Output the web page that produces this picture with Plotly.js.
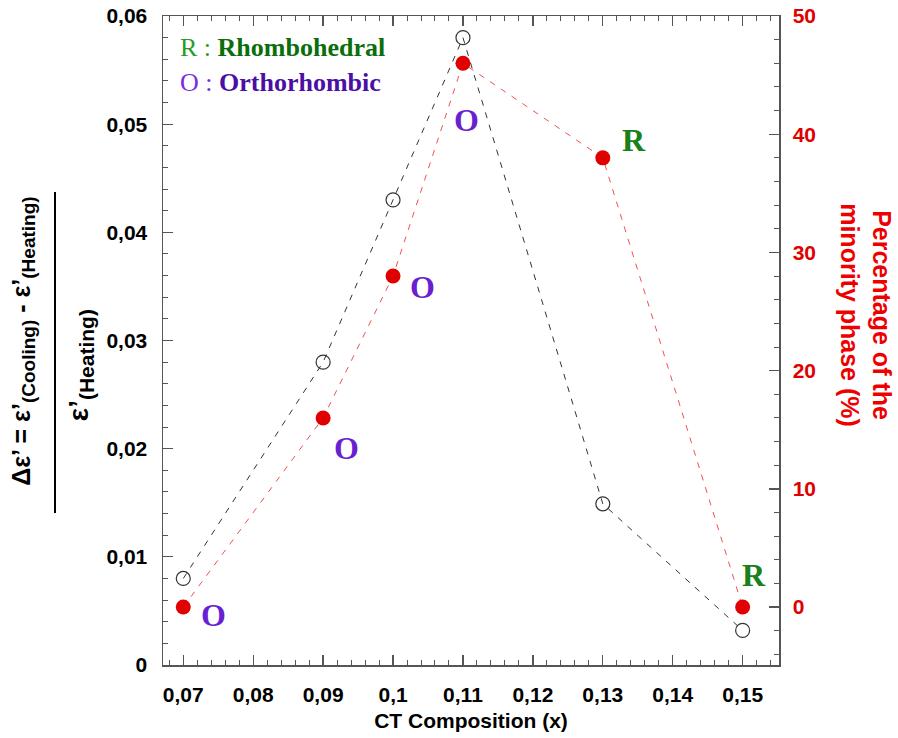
<!DOCTYPE html>
<html>
<head>
<meta charset="utf-8">
<script src="https://cdn.plot.ly/plotly-3.0.1.min.js"></script>
<style>
  html, body { margin: 0; padding: 0; background: #fff; }
  #chart { width: 898px; height: 738px; }
</style>
</head>
<body>
<div id="chart"></div>
<script>
// CT composition (x)
const composition = [0.07, 0.09, 0.10, 0.11, 0.13, 0.15];
// Relative permittivity change (cooling vs heating)
const deltaEps = [0.008, 0.028, 0.043, 0.058, 0.0149, 0.0032];
// Percentage of the minority phase (%)
const minorityPct = [0, 16, 28, 46, 38, 0];
// Minority phase at each composition
const phaseLabels = ['O', 'O', 'O', 'O', 'R', 'R'];

// Pixel offsets of each phase letter from its red marker
const labelOffsets = [[30, 8], [23, 30], [29, 11], [4, 57], [31, -18], [11, -32]];

const phaseColor = { O: '#6a1fd0', R: '#1a801a' };

const axisGrey = '#555555';
const red = '#e00000';
const sansBold = { family: 'Liberation Sans, Arial, sans-serif', size: 21, color: '#000', weight: 'bold' };

const traces = [
  {
    x: composition, y: deltaEps, type: 'scatter', mode: 'lines+markers',
    xaxis: 'x', yaxis: 'y',
    line: { color: '#333333', width: 1, dash: '6px,7px' },
    marker: { symbol: 'circle-open', size: 14, color: '#333333', line: { width: 1.2, color: '#333333' } },
    hoverinfo: 'x+y'
  },
  {
    x: composition, y: minorityPct, type: 'scatter', mode: 'lines+markers',
    xaxis: 'x', yaxis: 'y2',
    line: { color: '#f05050', width: 1, dash: '6px,7px' },
    marker: { symbol: 'circle', size: 15, color: red },
    hoverinfo: 'x+y'
  }
];

const annotations = phaseLabels.map((p, i) => ({
  x: composition[i], y: minorityPct[i], xref: 'x', yref: 'y2',
  text: '<b>' + p + '</b>', showarrow: false,
  xshift: labelOffsets[i][0], yshift: -labelOffsets[i][1],
  font: { family: 'Liberation Serif, Times New Roman, serif', size: 32, color: phaseColor[p] }
}));

// Key for the phase letters
annotations.push(
  {
    xref: 'paper', yref: 'paper', x: 0.024, y: 0.952, xanchor: 'left', yanchor: 'middle',
    showarrow: false,
    text: '<span style="color:#2a9a2a">R :</span> <b>Rhombohedral</b>',
    font: { family: 'Liberation Serif, Times New Roman, serif', size: 26, color: '#0a6e0a' }
  },
  {
    xref: 'paper', yref: 'paper', x: 0.024, y: 0.897, xanchor: 'left', yanchor: 'middle',
    showarrow: false,
    text: '<span style="color:#7b2be0">O :</span> <b>Orthorhombic</b>',
    font: { family: 'Liberation Serif, Times New Roman, serif', size: 26, color: '#4a0fa5' }
  }
);

const titleFont = { family: 'Liberation Sans, Arial, sans-serif', size: 25, color: '#000', weight: 'bold' };

// Left axis title drawn as a fraction
annotations.push(
  {
    xref: 'paper', yref: 'paper', x: (23 - 163) / 616, y: 0.498, xanchor: 'center', yanchor: 'middle',
    showarrow: false, textangle: -90,
    text: 'Δε’ = ε’<sub><span style="font-size:19px">(Cooling)</span></sub> - ε’<sub><span style="font-size:19px">(Heating)</span></sub>',
    font: titleFont
  },
  {
    xref: 'paper', yref: 'paper', x: (80 - 163) / 616, y: 0.462, xanchor: 'center', yanchor: 'middle',
    showarrow: false, textangle: -90,
    text: 'ε’<sub><span style="font-size:21px">(Heating)</span></sub>',
    font: Object.assign({}, titleFont, { size: 28 })
  },
  // Right axis title
  {
    xref: 'paper', yref: 'paper', x: (866 - 163) / 616, y: 0.539, xanchor: 'center', yanchor: 'middle',
    showarrow: false, textangle: 90,
    text: 'Percentage of the<br>minority phase (%)',
    font: { family: 'Liberation Sans, Arial, sans-serif', size: 25, color: '#ee0000', weight: 'bold' }
  }
);

const layout = {
  width: 898, height: 738,
  margin: { l: 163, r: 119, t: 16, b: 73 },
  paper_bgcolor: '#ffffff', plot_bgcolor: '#ffffff',
  separators: ', ',
  showlegend: false,
  xaxis: {
    range: [0.0671, 0.1552], dtick: 0.01, tick0: 0.07,
    showgrid: false, zeroline: false,
    showline: true, linecolor: axisGrey, linewidth: 1.5, mirror: 'ticks',
    ticks: 'inside', ticklen: 10, tickwidth: 1.3, tickcolor: axisGrey,
    minor: { dtick: 0.002, ticks: 'inside', ticklen: 5, tickwidth: 1, tickcolor: axisGrey, showgrid: false },
    tickfont: sansBold, ticklabelstandoff: 10,
    title: { text: 'CT Composition (x)', standoff: 8,
             font: { family: 'Liberation Sans, Arial, sans-serif', size: 21, color: '#000', weight: 'bold' } }
  },
  yaxis: {
    range: [0, 0.06], dtick: 0.01, tick0: 0,
    showgrid: false, zeroline: false,
    showline: true, linecolor: axisGrey, linewidth: 1.5,
    ticks: 'inside', ticklen: 10, tickwidth: 1.3, tickcolor: axisGrey,
    minor: { dtick: 0.002, ticks: 'inside', ticklen: 5, tickwidth: 1, tickcolor: axisGrey, showgrid: false },
    tickfont: sansBold, ticklabelstandoff: 10
  },
  yaxis2: {
    overlaying: 'y', side: 'right',
    range: [-4.9, 50], dtick: 10, tick0: 0,
    showgrid: false, zeroline: false,
    showline: true, linecolor: axisGrey, linewidth: 1.5,
    ticks: 'inside', ticklen: 10, tickwidth: 1.3, tickcolor: axisGrey,
    minor: { dtick: 2, ticks: 'inside', ticklen: 5, tickwidth: 1, tickcolor: axisGrey, showgrid: false },
    tickfont: Object.assign({}, sansBold, { color: red }), ticklabelstandoff: 8
  },
  annotations: annotations,
  shapes: [
    // fraction bar of the left axis title
    { type: 'line', xref: 'paper', yref: 'paper',
      x0: (55 - 163) / 616, x1: (55 - 163) / 616, y0: 0.2342, y1: 0.7288,
      line: { color: '#000', width: 2 } }
  ]
};

Plotly.newPlot('chart', traces, layout, { staticPlot: true, displayModeBar: false });
</script>
</body>
</html>
